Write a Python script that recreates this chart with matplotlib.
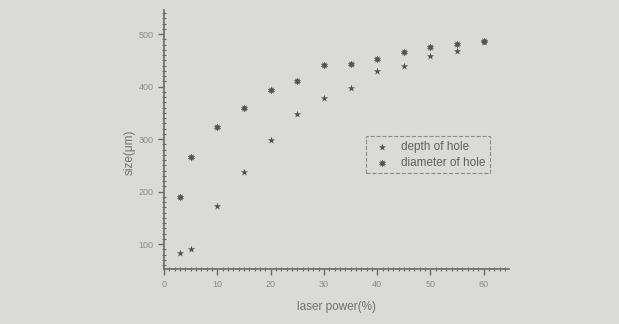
import matplotlib
matplotlib.use("Agg")
import matplotlib.pyplot as plt
from matplotlib.ticker import MultipleLocator

power = [3, 5, 10, 15, 20, 25, 30, 35, 40, 45, 50, 55, 60]
depth = [83, 90, 172, 238, 299, 347, 379, 397, 429, 440, 458, 468, 485]
diameter = [189, 265, 323, 359, 394, 411, 441, 443, 453, 466, 475, 482, 487]
x_ticks = [0, 10, 20, 30, 40, 50, 60]
y_ticks = [100, 200, 300, 400, 500]

bg = "#dadad8"
ink = "#6a6a6a"
mk = "#505050"

plt.rcParams['font.family'] = ['Liberation Sans', 'DejaVu Sans']
fig = plt.figure(figsize=(6.19, 3.24), dpi=100, facecolor=bg)
ax = fig.add_axes([0.265, 0.169, 0.557, 0.80])
ax.set_facecolor(bg)

ax.scatter(power, depth, marker='*', s=30, color=mk, linewidths=0, label='depth of hole')
ax.scatter(power, diameter, marker=(10, 1, 0), s=24, color=mk, linewidths=0.3,
           edgecolors=mk, label='diameter of hole')

ax.set_xlim(0, 64.7)
ax.set_ylim(52, 546)
ax.set_xticks(x_ticks)
ax.set_yticks(y_ticks)
ax.xaxis.set_minor_locator(MultipleLocator(1))
ax.yaxis.set_minor_locator(MultipleLocator(10))
for s in ['top', 'right']:
    ax.spines[s].set_visible(False)
for s in ['left', 'bottom']:
    ax.spines[s].set_color(ink)
    ax.spines[s].set_linewidth(1.2)
ax.tick_params(which='major', direction='out', length=4, width=1, color=ink,
               labelsize=6.5, labelcolor='#8a8a8a')
ax.tick_params(which='minor', direction='inout', length=2.5, width=0.8, color=ink)

ax.set_xlabel('laser power(%)', fontsize=8.5, color='#707070', labelpad=9)
ax.set_ylabel('size(\u03bcm)', fontsize=8.5, color='#707070', labelpad=2)
ax.yaxis.set_label_coords(-0.082, 0.45)

leg = ax.legend(loc='upper left', bbox_to_anchor=(0.57, 0.535), fontsize=8.5,
                frameon=True, fancybox=False, handletextpad=0.6,
                borderpad=0.35, labelspacing=0.35, markerscale=1.0,
                labelcolor='#606060')
fr = leg.get_frame()
fr.set_linestyle('--')
fr.set_edgecolor('#777777')
fr.set_facecolor(bg)
fr.set_linewidth(0.8)

fig.savefig('out.png', dpi=100, facecolor=bg)
